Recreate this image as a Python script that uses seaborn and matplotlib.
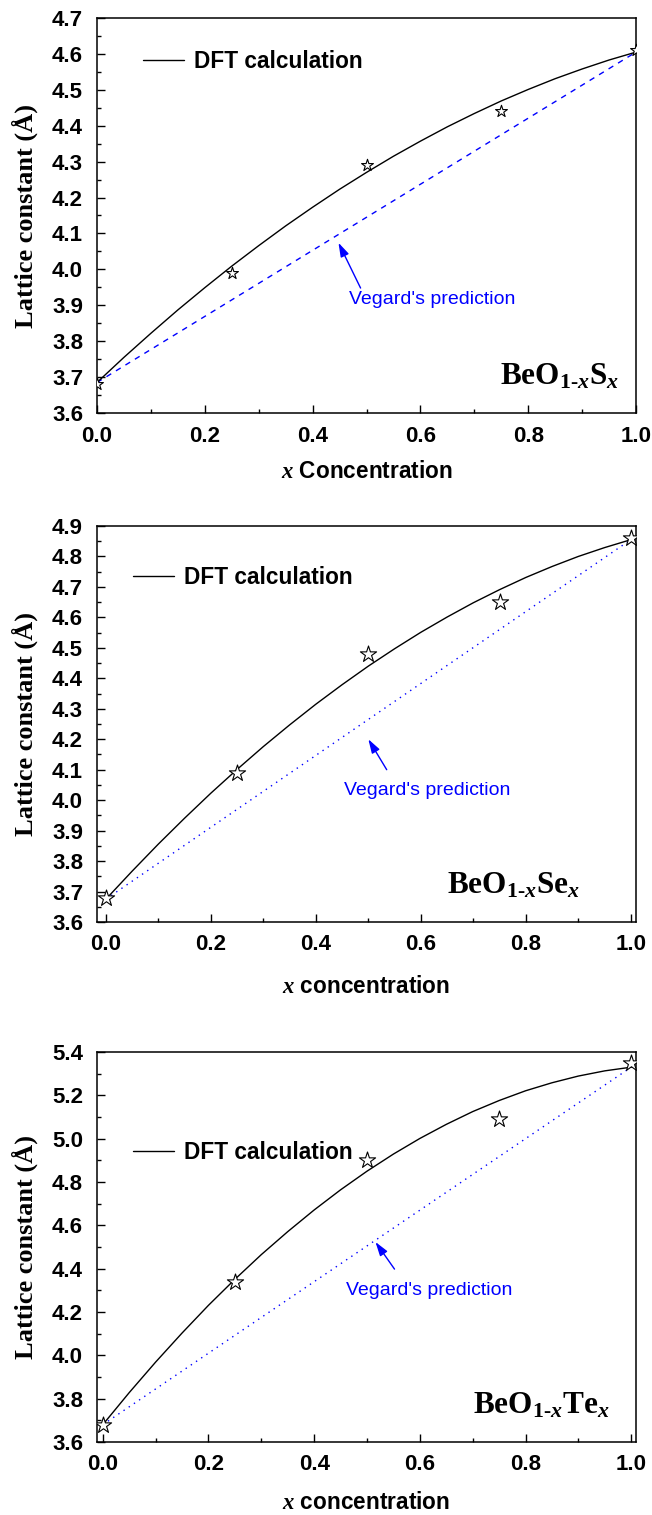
import numpy as np
import pandas as pd
import matplotlib
matplotlib.use('Agg')
import matplotlib.pyplot as plt
import seaborn as sns
from matplotlib.ticker import MultipleLocator, FormatStrFormatter

sns.set_theme(style='ticks')
plt.rcParams['font.family'] = ['Liberation Sans', 'DejaVu Sans']
plt.rcParams['mathtext.fontset'] = 'custom'
plt.rcParams['mathtext.rm'] = 'Liberation Serif:bold'
plt.rcParams['mathtext.bf'] = 'Liberation Serif:bold'
plt.rcParams['mathtext.it'] = 'Liberation Serif:italic:bold'
for k in ['text.color', 'axes.labelcolor', 'xtick.color', 'ytick.color', 'axes.edgecolor']:
    plt.rcParams[k] = 'black'

# ---------------- data ----------------
x_conc = [0.0, 0.25, 0.5, 0.75, 1.0]
x_fit = [0.0, 0.05, 0.1, 0.15, 0.2, 0.25, 0.3, 0.35, 0.4, 0.45, 0.5,
         0.55, 0.6, 0.65, 0.7, 0.75, 0.8, 0.85, 0.9, 0.95, 1.0]
x_vegard = [0.0, 1.0]

# BeO(1-x)S(x)
latt_S = [3.68, 3.99, 4.29, 4.44, 4.61]
fit_S = [3.685, 3.755, 3.822, 3.887, 3.949, 4.009, 4.066, 4.121, 4.173, 4.223, 4.270,
         4.315, 4.357, 4.397, 4.434, 4.469, 4.501, 4.531, 4.558, 4.583, 4.605]
vegard_S = [3.685, 4.605]

# BeO(1-x)Se(x)
latt_Se = [3.68, 4.09, 4.48, 4.65, 4.86]
fit_Se = [3.675, 3.767, 3.856, 3.941, 4.023, 4.101, 4.176, 4.247, 4.315, 4.379, 4.440,
          4.497, 4.551, 4.601, 4.648, 4.691, 4.731, 4.767, 4.800, 4.829, 4.855]
vegard_Se = [3.675, 4.855]

# BeO(1-x)Te(x)
latt_Te = [3.68, 4.34, 4.90, 5.09, 5.35]
fit_Te = [3.680, 3.828, 3.969, 4.103, 4.231, 4.351, 4.465, 4.571, 4.671, 4.764, 4.850,
          4.929, 5.001, 5.066, 5.125, 5.176, 5.221, 5.258, 5.289, 5.313, 5.330]
vegard_Te = [3.680, 5.330]

compounds = [r"BeO$_{1\text{-}x}$S$_{x}$",
             r"BeO$_{1\text{-}x}$Se$_{x}$",
             r"BeO$_{1\text{-}x}$Te$_{x}$"]
xlabels = [r"$x$ Concentration", r"$x$ concentration", r"$x$ concentration"]
ylabel = "Lattice constant (Å)"
legend_label = "DFT calculation"
vegard_label = "Vegard's prediction"

# ---------------- layout ----------------
W, H = 652, 1515
fig = plt.figure(figsize=(W / 100, H / 100), dpi=100)

def ax_rect(left, top, right, bottom):
    return [left / W, 1 - bottom / H, (right - left) / W, (bottom - top) / H]

panels = [
    dict(rect=ax_rect(97, 18, 636, 413), xlim=(0.0, 1.0), ylim=(3.6, 4.7), ymaj=0.1, ymin=0.05,
         latt=latt_S, fit=fit_S, veg=vegard_S, vstyle=(0, (4, 4)), ms=80,
         leg=(0.085, 0.889), head=(0.448, 4.074), tail=(0.489, 3.948), vtext=(0.467, 3.915),
         comp=(0.748, 0.071), xpad=9, xlpad=10),
    dict(rect=ax_rect(97, 526, 636, 922), xlim=(-0.017, 1.01), ylim=(3.6, 4.9), ymaj=0.1, ymin=0.05,
         latt=latt_Se, fit=fit_Se, veg=vegard_Se, vstyle=(0, (1, 3.5)), ms=150,
         leg=(0.067, 0.869), head=(0.50, 4.20), tail=(0.535, 4.10), vtext=(0.454, 4.033),
         comp=(0.65, 0.073), xpad=9, xlpad=14),
    dict(rect=ax_rect(97, 1052, 636, 1442), xlim=(-0.011, 1.009), ylim=(3.6, 5.4), ymaj=0.2, ymin=0.1,
         latt=latt_Te, fit=fit_Te, veg=vegard_Te, vstyle=(0, (1, 3.5)), ms=150,
         leg=(0.067, 0.742), head=(0.516, 4.523), tail=(0.552, 4.398), vtext=(0.461, 4.297),
         comp=(0.697, 0.074), xpad=9, xlpad=11),
]

for i, p in enumerate(panels):
    ax = fig.add_axes(p['rect'])
    df_fit = pd.DataFrame({'x': x_fit, 'y': p['fit']})
    df_veg = pd.DataFrame({'x': x_vegard, 'y': p['veg']})
    df_pts = pd.DataFrame({'x': x_conc, 'y': p['latt']})

    sns.lineplot(data=df_fit, x='x', y='y', ax=ax, color='black', lw=1.0,
                 label=legend_label, zorder=3)
    sns.lineplot(data=df_veg, x='x', y='y', ax=ax, color='#0000FF', lw=1.0,
                 zorder=2, legend=False)
    ax.lines[-1].set_linestyle(p['vstyle'])
    sns.scatterplot(data=df_pts, x='x', y='y', ax=ax, marker='*', s=p['ms'],
                    facecolor='white', edgecolor='black', linewidth=0.8,
                    zorder=4, legend=False)

    ax.set_xlim(*p['xlim'])
    ax.set_ylim(*p['ylim'])
    ax.xaxis.set_major_locator(MultipleLocator(0.2))
    ax.xaxis.set_minor_locator(MultipleLocator(0.1))
    ax.yaxis.set_major_locator(MultipleLocator(p['ymaj']))
    ax.yaxis.set_minor_locator(MultipleLocator(p['ymin']))
    ax.xaxis.set_major_formatter(FormatStrFormatter('%.1f'))
    ax.yaxis.set_major_formatter(FormatStrFormatter('%.1f'))
    ax.tick_params(which='both', direction='in', top=False, right=False,
                   colors='black', width=1.0)
    ax.tick_params(which='major', length=6)
    ax.tick_params(which='minor', length=3)
    ax.tick_params(axis='y', which='major', pad=10, labelsize=16)
    ax.tick_params(axis='x', which='major', pad=p['xpad'], labelsize=16)
    for lab in ax.get_xticklabels() + ax.get_yticklabels():
        lab.set_fontweight('bold')
    for sp in ax.spines.values():
        sp.set_visible(True)
        sp.set_color('black')
        sp.set_linewidth(1.1)

    ax.set_xlabel(xlabels[i], fontsize=16.3, fontweight='bold', labelpad=p['xlpad'])
    ax.set_ylabel(ylabel, fontsize=19, fontweight='bold', family='Liberation Serif', labelpad=10)

    leg = ax.legend(loc='center left', bbox_to_anchor=p['leg'], frameon=False,
                    borderpad=0, borderaxespad=0, handlelength=1.8, handletextpad=0.45,
                    prop={'weight': 'bold', 'size': 16.3})
    for t in leg.get_texts():
        t.set_color('black')

    ax.annotate('', xy=p['head'], xytext=p['tail'],
                arrowprops=dict(arrowstyle='-|>,head_length=0.7,head_width=0.22',
                                color='#0000FF', lw=1.0, mutation_scale=12,
                                shrinkA=0, shrinkB=0))
    ax.text(p['vtext'][0], p['vtext'][1], vegard_label, color='#0000FF',
            fontsize=14, ha='left', va='center')
    ax.text(p['comp'][0], p['comp'][1], compounds[i], transform=ax.transAxes,
            family='Liberation Serif', fontweight='bold', fontsize=22.5,
            ha='left', va='baseline')

fig.savefig('out.png', dpi=100)
